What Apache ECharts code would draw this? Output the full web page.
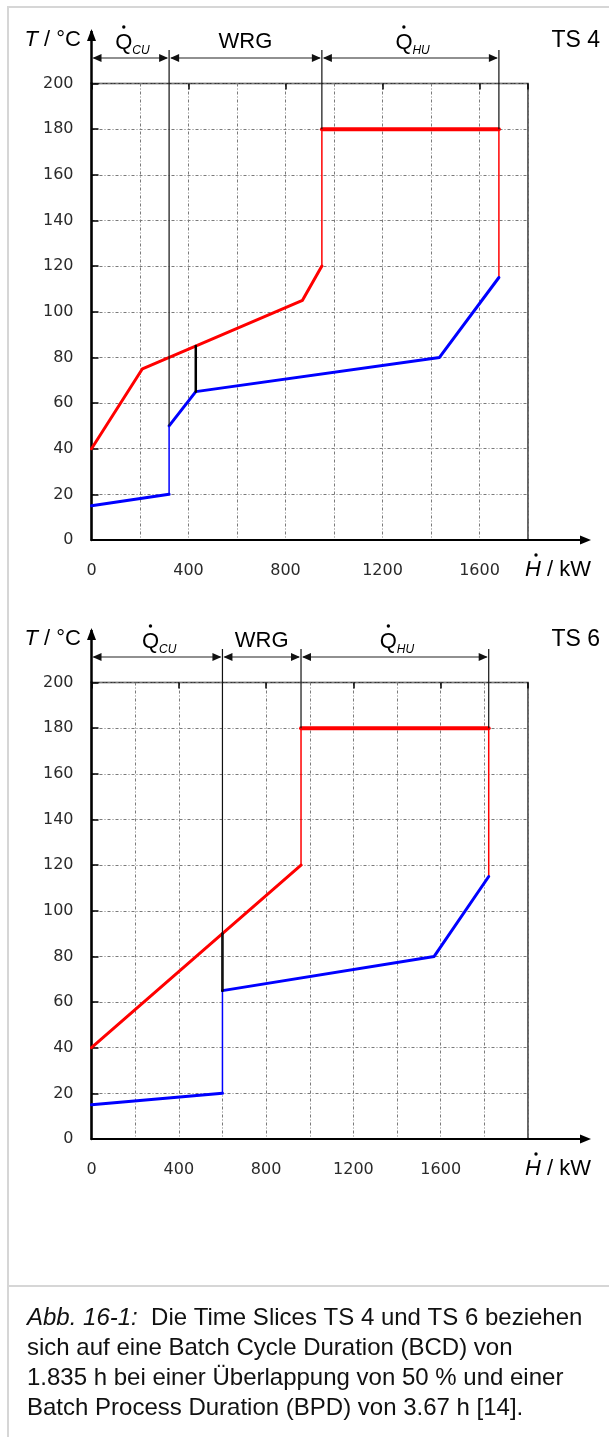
<!DOCTYPE html>
<html>
<head>
<meta charset="utf-8">
<script src="https://cdn.jsdelivr.net/npm/echarts@6/dist/echarts.min.js"></script>
<style>
  html, body { margin: 0; padding: 0; background: #fff; }
  #main { width: 609px; height: 1437px; }
</style>
</head>
<body>
<div id="main"></div>
<script>
// ---- Composite curves, time slice TS 4 (H in kW, T in °C) ----
const ts4HotCurve  = [[0, 40], [210, 75], [870, 105], [950, 120]];
const ts4ColdLow   = [[0, 15], [320, 20]];
const ts4ColdHigh  = [[320, 50], [430, 65], [1435, 80], [1680, 115]];
const ts4HotUtilityT = 180;
const ts4Pinch     = [[430, 85], [430, 65]];
const ts4Bounds    = [320, 950, 1680];   // end of Q_CU, end of WRG, end of Q_HU
const ts4MaxH      = 1800;

// ---- Composite curves, time slice TS 6 ----
const ts6HotCurve  = [[0, 40], [960, 120]];
const ts6ColdLow   = [[0, 15], [600, 20]];
const ts6ColdHigh  = [[600, 65], [1570, 80], [1820, 115]];
const ts6HotUtilityT = 180;
const ts6Pinch     = [[600, 90], [600, 65]];
const ts6Bounds    = [600, 960, 1820];
const ts6MaxH      = 2000;

// ---- Axis ticks ----
const tempMin = 0, tempMax = 200, tempStep = 20;
const heatGridStep = 200, heatLabelStep = 400, heatLabelMax = 1600;

const panels = [
  { name: 'TS 4', hot: ts4HotCurve, coldLow: ts4ColdLow, coldHigh: ts4ColdHigh,
    hu: ts4HotUtilityT, pinch: ts4Pinch, bounds: ts4Bounds, maxH: ts4MaxH },
  { name: 'TS 6', hot: ts6HotCurve, coldLow: ts6ColdLow, coldHigh: ts6ColdHigh,
    hu: ts6HotUtilityT, pinch: ts6Pinch, bounds: ts6Bounds, maxH: ts6MaxH }
];

const RED = '#ff0000', BLUE = '#0000ff', INK = '#1a1a1a';
const TICK_FONT = 'DejaVu Sans, Verdana, sans-serif';
const TEXT_FONT = '"Liberation Sans", Arial, Helvetica, sans-serif';
const PANEL_DY = 599;            // vertical distance between the two diagrams

const gridDash = [3, 2, 1, 2];
const gridColor = '#7a7a7a';

const grids = [], xAxes = [], yAxes = [], series = [], firstSeries = [];

panels.forEach((p, gi) => {
  grids.push({ left: 91.5, top: 83.5 + gi * PANEL_DY, width: 436.5, height: 456.5,
               show: true, borderColor: '#333', borderWidth: 1.5, backgroundColor: 'transparent' });

  // main axis: grid lines every 200 kW, labels every 400 kW
  xAxes.push({
    type: 'value', gridIndex: gi, min: 0, max: p.maxH, interval: heatGridStep,
    axisLine: { show: true, lineStyle: { color: '#000', width: 2 } },
    axisTick: { show: false },
    axisLabel: {
      margin: 23, fontFamily: TICK_FONT, fontSize: 16, color: '#2a2a2a',
      formatter: v => (v % heatLabelStep === 0 && v <= heatLabelMax) ? String(v) : ''
    },
    splitLine: { show: true, lineStyle: { color: gridColor, width: 1, type: gridDash } }
  });
  // tick-only axis: short inward ticks at the labelled values
  xAxes.push({
    type: 'value', gridIndex: gi, min: 0, max: p.maxH, interval: heatLabelStep,
    axisLine: { show: false },
    axisTick: { show: true, inside: true, length: 6, lineStyle: { color: '#000', width: 1.5 } },
    axisLabel: { show: false }, splitLine: { show: false }
  });
  yAxes.push({
    type: 'value', gridIndex: gi, min: tempMin, max: tempMax, interval: tempStep,
    axisLine: { show: true, lineStyle: { color: '#000', width: 2.5 } },
    axisTick: { show: true, inside: true, length: 7, lineStyle: { color: '#000', width: 1.5 } },
    axisLabel: { margin: 18, fontFamily: TICK_FONT, fontSize: 16, color: '#2a2a2a' },
    splitLine: { show: true, lineStyle: { color: gridColor, width: 1, type: gridDash } }
  });

  const xi = gi * 2, yi = gi;
  const line = (data, color, width) => ({
    type: 'line', xAxisIndex: xi, yAxisIndex: yi, data, symbol: 'none', silent: true,
    animation: false, lineStyle: { color, width, cap: 'round', join: 'round' }, z: 5
  });
  const hotEnd = p.hot[p.hot.length - 1];
  const coldEnd = p.coldHigh[p.coldHigh.length - 1];
  firstSeries.push(series.length);
  // hot composite curve
  series.push(line(p.hot, RED, 3));
  // hot utility: rise at the end of heat recovery, level, drop to the cold end
  series.push(line([hotEnd, [hotEnd[0], p.hu]], RED, 1.5));
  series.push(line([[hotEnd[0], p.hu], [p.bounds[2], p.hu]], RED, 4));
  series.push(line([[p.bounds[2], p.hu], coldEnd], RED, 1.5));
  // cold composite curve (cooled part, step, heated part)
  series.push(line(p.coldLow, BLUE, 3));
  series.push(line([p.coldLow[p.coldLow.length - 1], p.coldHigh[0]], BLUE, 1.5));
  series.push(line(p.coldHigh, BLUE, 3));
  // minimum temperature approach
  series.push(line(p.pinch, '#000', 2.5));
});

const chart = echarts.init(document.getElementById('main'));
chart.setOption({
  animation: false,
  grid: grids, xAxis: xAxes, yAxis: yAxes, series
});

// ---- Annotations: axis arrows, energy brackets, labels, caption ----
const g = [];
const ln = (x1, y1, x2, y2, w, c) => g.push({ type: 'line', silent: true, z: 10,
  shape: { x1, y1, x2, y2 }, style: { stroke: c || INK, lineWidth: w || 1 } });
const tri = (pts, c) => g.push({ type: 'polygon', silent: true, z: 10,
  shape: { points: pts }, style: { fill: c || INK } });
const txt = (text, x, y, font, align, extra) => g.push(Object.assign({ type: 'text', silent: true, z: 10,
  style: Object.assign({ text, x, y, font, fill: '#000', align: align || 'left', verticalAlign: 'middle' }, extra || {}) }));
const dot = (x, y) => g.push({ type: 'circle', silent: true, z: 10, shape: { cx: x, cy: y, r: 1.7 }, style: { fill: '#000' } });

const HEAD = '22px ' + TEXT_FONT;

panels.forEach((p, gi) => {
  const dy = gi * PANEL_DY;
  const px = v => chart.convertToPixel({ seriesIndex: firstSeries[gi] }, v);
  const o = px([0, 0]);
  const top = px([0, tempMax])[1];
  const right = px([p.maxH, 0])[0];
  const x0 = o[0];

  // y axis arrow
  ln(x0, top, x0, 31 + dy, 2.5, '#000');
  tri([[x0, 29 + dy], [x0 - 4.5, 41 + dy], [x0 + 4.5, 41 + dy]], '#000');
  // x axis arrow
  ln(right, o[1], 582, o[1], 2, '#000');
  tri([[591, o[1]], [580, o[1] - 4.5], [580, o[1] + 4.5]], '#000');

  // bracket row
  const rowY = 58 + dy;
  const xs = [x0].concat(p.bounds.map(b => px([b, 0])[0]));
  for (let k = 0; k < 3; k++) {
    const a = xs[k], b = xs[k + 1];
    ln(a + 2, rowY, b - 2, rowY, 1.2, '#222');
    tri([[a + 1, rowY], [a + 10, rowY - 4], [a + 10, rowY + 4]], '#111');
    tri([[b - 1, rowY], [b - 10, rowY - 4], [b - 10, rowY + 4]], '#111');
  }
  // boundary lines down into the diagram
  const ends = [p.coldHigh[0][1], p.hu, p.hu];
  p.bounds.forEach((b, k) => {
    const pt = px([b, ends[k]]);
    ln(pt[0], 50 + dy, pt[0], pt[1], 1.2, '#111');
  });

  // bracket labels
  const qLabel = (cx, sub) => {
    const left = cx - 16;
    txt('Q', left, 43 + dy, HEAD, 'left');
    dot(left + 8.5, 27 + dy);
    txt(sub, left + 17, 51 + dy, 'italic 12px ' + TEXT_FONT, 'left');
  };
  qLabel((xs[0] + xs[1]) / 2 + 1, 'CU');
  txt('WRG', (xs[1] + xs[2]) / 2, 42 + dy, HEAD, 'center');
  qLabel((xs[2] + xs[3]) / 2 + 1, 'HU');

  // axis titles and slice name
  txt('{i|T} / °C', 81, 40 + dy, HEAD, 'right',
      { rich: { i: { font: 'italic 22px ' + TEXT_FONT } } });
  txt(p.name, 600, 41 + dy, '23px ' + TEXT_FONT, 'right');
  txt('{i|H} / kW', 591, 570 + dy, HEAD, 'right',
      { rich: { i: { font: 'italic 22px ' + TEXT_FONT } } });
  dot(536, 555 + dy);
});

// frame and caption
const FRAME = '#d6d6d6';
ln(8, 7, 609, 7, 2, FRAME);
ln(8, 6, 8, 1437, 2, FRAME);
ln(8, 1286, 609, 1286, 2, FRAME);

const CAP = '24px ' + TEXT_FONT;
const captionLines = [
  '{i|Abb. 16-1:}  Die Time Slices TS 4 und TS 6 beziehen',
  'sich auf eine Batch Cycle Duration (BCD) von',
  '1.835 h bei einer Überlappung von 50 % und einer',
  'Batch Process Duration (BPD) von 3.67 h [14].'
];
captionLines.forEach((s, k) => {
  txt(s, 27, 1318 + k * 30, CAP, 'left', { fill: '#111', rich: { i: { font: 'italic 24px ' + TEXT_FONT, fill: '#111' } } });
});

chart.setOption({ graphic: g });
</script>
</body>
</html>
